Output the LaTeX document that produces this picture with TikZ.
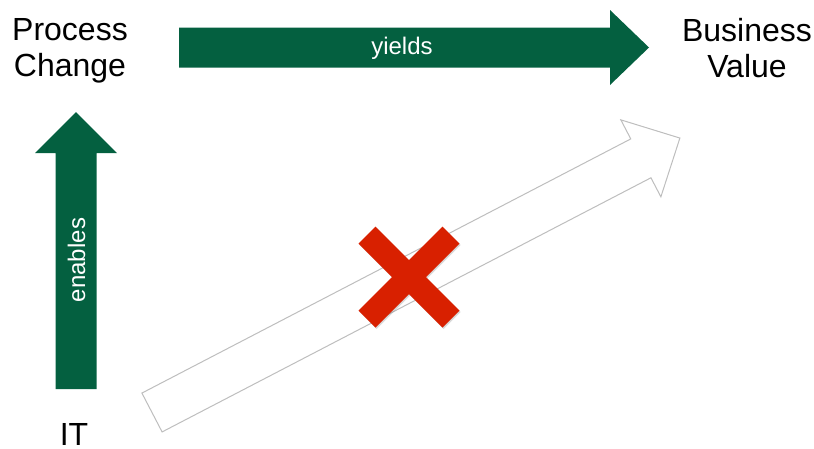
\documentclass[tikz,border=0pt]{standalone}
\usepackage{fontspec}
\setmainfont{Liberation Sans}
\usetikzlibrary{positioning, calc, shadows}

\definecolor{dkgreen}{RGB}{4,96,64}
\definecolor{xred}{RGB}{216,32,0}
\definecolor{ghost}{RGB}{190,190,190}

\begin{document}
\begin{tikzpicture}[
        x=1pt, y=-1pt,
        term/.style={align=center, inner sep=0pt, font=\fontsize{32}{36}\selectfont},
        verb/.style={text=white, inner sep=0pt, font=\fontsize{24}{28}\selectfont},
        fatarrow/.style={fill=dkgreen},
        hollow/.style={draw=ghost, line width=1pt, fill=white},
        cross/.style={fill=xred, drop shadow={opacity=0.3, shadow xshift=1.2pt, shadow yshift=-1.5pt}}
    ]
    \useasboundingbox (0,0) rectangle (814,448);

    \node (pc) [term] at (70,51) {Process\\Change};
    \node (bv) [term] at (747,47.6) {Business\\Value};
    \node (it) [term, anchor=base] at (74,445) {IT};

    % yields
    \coordinate (ytail) at (179,47.5);
    \fill [fatarrow] (ytail) ++(0,-20) -- ++(431,0) -- ++(0,-17.5) -- ++(39,37.5)
        -- ++(-39,37.5) -- ++(0,-17.5) -- ++(-431,0) -- cycle;
    \node (yields) [verb] at (402,48) {yields};

    % enables
    \coordinate (etail) at (76,389);
    \fill [fatarrow] (etail) ++(-20.5,0) -- ++(0,-236) -- ++(-20.5,0) -- ++(41,-41)
        -- ++(41,41) -- ++(-20.5,0) -- ++(0,236) -- cycle;
    \node (enables) [verb, rotate=90] at (76.5,260) {enables};

    % IT straight to value, crossed out
    \coordinate (wtail) at (152,412.5);
    \begin{scope}[shift={(wtail)}, rotate=27.47]
        \draw [hollow] (0,-21.9) -- (551,-21.9) -- (551,-43.4) -- (595,0)
            -- (551,43.4) -- (551,21.9) -- (0,21.9) -- cycle;
    \end{scope}
    \coordinate (nox) at (409,277);
    \begin{scope}[shift={(nox)}]
        \fill [cross] (-33.5,-50.5) -- (0,-17) -- (33.5,-50.5) -- (50.5,-33.5) -- (17,0)
            -- (50.5,33.5) -- (33.5,50.5) -- (0,17) -- (-33.5,50.5) -- (-50.5,33.5)
            -- (-17,0) -- (-50.5,-33.5) -- cycle;
    \end{scope}
\end{tikzpicture}
\end{document}
